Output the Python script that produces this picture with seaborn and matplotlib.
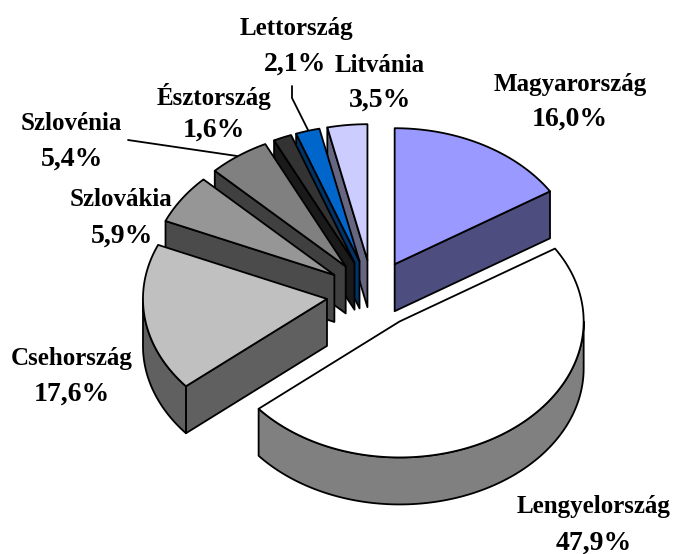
import matplotlib

matplotlib.use("Agg")
import matplotlib.pyplot as plt
import numpy as np
import seaborn as sns

countries = ["Magyarország", "Lengyelország", "Csehország", "Szlovákia",
             "Szlovénia", "Észtország", "Lettország", "Litvánia"]
shares = [16.0, 47.9, 17.6, 5.9, 5.4, 1.6, 2.1, 3.5]
top_colors = ["#9999FF", "#FFFFFF", "#C0C0C0", "#969696",
              "#808080", "#333333", "#0066CC", "#CCCCFF"]
side_colors = ["#4D4D80", "#808080", "#606060", "#4B4B4B",
               "#404040", "#1A1A1A", "#003366", "#666680"]
share_labels = ["16,0%", "47,9%", "17,6%", "5,9%", "5,4%", "1,6%", "2,1%", "3,5%"]

# label centres in pixels: (name, share)
label_pos = [
    ((570, 85), (570, 119)),
    ((594, 507), (594, 543)),
    ((72, 359), (72, 394)),
    ((121, 200), (122, 236)),
    ((71, 123), (72, 159)),
    ((214, 96), (214, 130)),
    ((296, 28), (295, 64)),
    ((380, 66), (380, 100)),
]
leaders = [
    ([128, 237], [140, 156]),
    ([292, 292, 308], [86, 98, 130]),
]

CX, CY = 372.5, 294
RX, RY = 184, 136
EXPLODE = 0.25
DEPTH = 47
LW = 1.3

sns.set_theme(style="white")
plt.rcParams["font.family"] = ["Liberation Serif", "DejaVu Serif"]

fig, ax = plt.subplots(figsize=(6.75, 5.54), dpi=100)
fig.subplots_adjust(left=0, right=1, top=1, bottom=0)
ax.set_xlim(0, 675)
ax.set_ylim(554, 0)
ax.axis("off")


def point(ox, oy, deg):
    rad = np.radians(deg)
    return ox + RX * np.sin(rad), oy - RY * np.cos(rad)


def poly(xs, ys, color):
    ax.fill(xs, ys, facecolor=color, edgecolor="black", linewidth=LW, joinstyle="round")


ends = np.cumsum(shares) * 3.6
starts = ends - np.array(shares) * 3.6

# back to front so nearer slices cover the further ones
for i in [7, 6, 5, 4, 3, 2, 0, 1]:
    a0, a1 = starts[i], ends[i]
    mid = np.radians((a0 + a1) / 2)
    ox = CX + EXPLODE * RX * np.sin(mid)
    oy = CY - EXPLODE * RY * np.cos(mid)

    # radial wall that faces the viewer
    wall = a0 if np.sin(np.radians(a0)) < 0 else a1
    if abs(np.sin(np.radians(wall))) > 1e-6 and (
        (wall == a0 and np.sin(np.radians(a0)) < 0)
        or (wall == a1 and np.sin(np.radians(a1)) > 0)
    ):
        wx, wy = point(ox, oy, wall)
        poly([ox, wx, wx, ox], [oy, wy, wy + DEPTH, oy + DEPTH], side_colors[i])

    # outer rim, only the front half of the ellipse shows
    lo, hi = max(a0, 90), min(a1, 270)
    if lo < hi:
        ang = np.linspace(lo, hi, 120)
        rx, ry = point(ox, oy, ang)
        poly(np.r_[rx, rx[::-1]], np.r_[ry, ry[::-1] + DEPTH], side_colors[i])

    ang = np.linspace(a0, a1, 160)
    tx, ty = point(ox, oy, ang)
    poly(np.r_[ox, tx], np.r_[oy, ty], top_colors[i])

for xs, ys in leaders:
    ax.plot(xs, ys, color="black", linewidth=LW)

for name, pct, (name_xy, pct_xy) in zip(countries, share_labels, label_pos):
    ax.text(*name_xy, name, ha="center", va="center", fontsize=18, fontweight="bold", color="black")
    ax.text(*pct_xy, pct, ha="center", va="center", fontsize=20, fontweight="bold", color="black")

fig.savefig("out.png", dpi=100, facecolor="white")
